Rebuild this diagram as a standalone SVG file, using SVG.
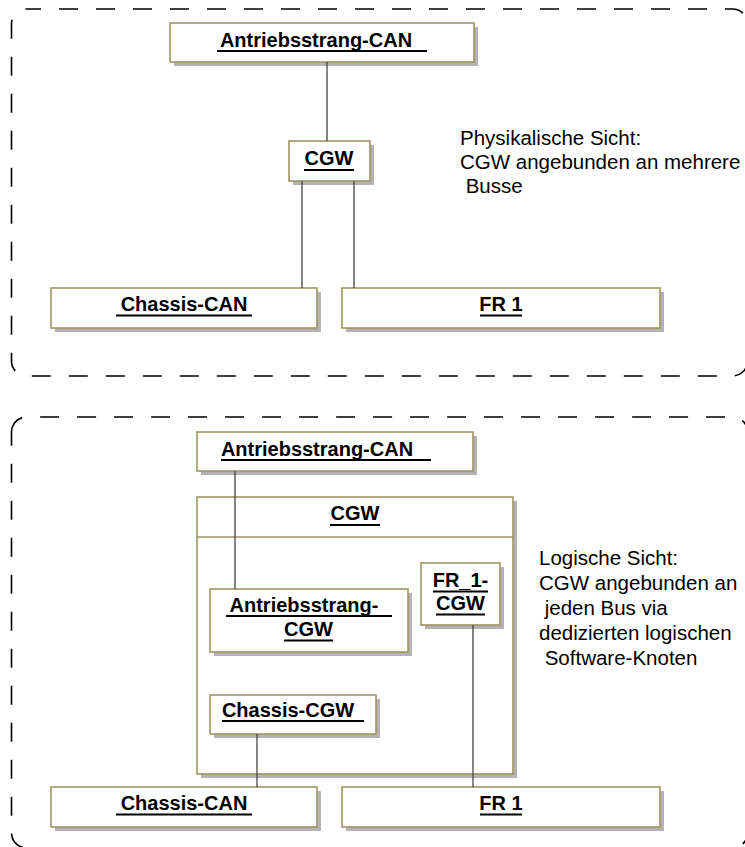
<svg xmlns="http://www.w3.org/2000/svg" width="745" height="847" viewBox="0 0 745 847">
  <style>
    .frame { fill: none; stroke: #000; stroke-width: 1.6; stroke-dasharray: 19 18; }
    .shadow { fill: #b3b3b3; stroke: none; }
    .box { fill: #fff; stroke: #9f9464; stroke-width: 1.6; }
    .sep { stroke: #9f9464; stroke-width: 1.6; }
    .lbl { font-family: "Liberation Sans", Arial, sans-serif; font-size: 20px; font-weight: bold; fill: #000; text-anchor: middle; }
    .ul { stroke: #000; stroke-width: 2; }
    .note { font-family: "Liberation Sans", Arial, sans-serif; font-size: 20.5px; fill: #000; }
    .wire { stroke: #444; stroke-width: 1.3; fill: none; }
  </style>

  <!-- package frames (rounded, dashed) -->
  <path class="frame" style="stroke-dashoffset:4.5"
        d="M26.5 9 H732.5 A15 15 0 0 1 747.5 24 V361 A15 15 0 0 1 732.5 376 H26.5 A15 15 0 0 1 11.5 361 V24 A15 15 0 0 1 26.5 9 Z"/>
  <path class="frame"
        d="M11.5 432 A15 15 0 0 1 26.5 417 H732.5 A15 15 0 0 1 747.5 432 V833 A15 15 0 0 1 732.5 848 H26.5 A15 15 0 0 1 11.5 833 Z"/>

  <!-- physical view -->
  <g id="phys-antriebsstrang-can">
    <rect class="shadow" x="174" y="27" width="304" height="39"/>
    <rect class="box" x="170" y="23" width="304" height="39"/>
    <text class="lbl" x="316" y="47">Antriebsstrang-CAN</text>
    <line class="ul" x1="217" y1="51" x2="427" y2="51"/>
  </g>

  <g id="phys-cgw">
    <rect class="shadow" x="293" y="145" width="81" height="40"/>
    <rect class="box" x="289" y="141" width="81" height="40"/>
    <text class="lbl" x="329" y="165">CGW</text>
    <line class="ul" x1="304" y1="170" x2="354" y2="170"/>
  </g>

  <g id="phys-chassis-can">
    <rect class="shadow" x="55" y="292" width="266" height="40"/>
    <rect class="box" x="51" y="288" width="266" height="40"/>
    <text class="lbl" x="184" y="311">Chassis-CAN</text>
    <line class="ul" x1="116" y1="315.5" x2="252" y2="315.5"/>
  </g>

  <g id="phys-fr1">
    <rect class="shadow" x="346" y="292" width="318" height="40"/>
    <rect class="box" x="342" y="288" width="318" height="40"/>
    <text class="lbl" x="501" y="311">FR 1</text>
    <line class="ul" x1="480" y1="315.5" x2="522" y2="315.5"/>
  </g>

  <g id="phys-note">
    <text class="note" x="460" y="145">Physikalische Sicht:</text>
    <text class="note" x="460" y="169">CGW angebunden an mehrere</text>
    <text class="note" x="460" y="193" xml:space="preserve"> Busse</text>
  </g>

  <!-- logical view -->
  <g id="log-antriebsstrang-can">
    <rect class="shadow" x="201" y="436" width="276" height="39"/>
    <rect class="box" x="197" y="432" width="276" height="39"/>
    <text class="lbl" x="317" y="456">Antriebsstrang-CAN</text>
    <line class="ul" x1="221" y1="460" x2="431" y2="460"/>
  </g>

  <g id="log-cgw">
    <rect class="shadow" x="201" y="501" width="316" height="277"/>
    <rect class="box" x="197" y="497" width="316" height="277"/>
    <line class="sep" x1="197" y1="537" x2="513" y2="537"/>
    <text class="lbl" x="355" y="520">CGW</text>
    <line class="ul" x1="330" y1="525" x2="380" y2="525"/>
  </g>

  <g id="log-antriebsstrang-cgw">
    <rect class="shadow" x="214" y="593" width="198" height="63"/>
    <rect class="box" x="210" y="589" width="198" height="63"/>
    <text class="lbl" x="304" y="612">Antriebsstrang-</text>
    <line class="ul" x1="226" y1="616" x2="392" y2="616"/>
    <text class="lbl" x="308.5" y="636">CGW</text>
    <line class="ul" x1="284" y1="640.5" x2="333" y2="640.5"/>
  </g>

  <g id="log-fr1-cgw">
    <rect class="shadow" x="425" y="567" width="79" height="62"/>
    <rect class="box" x="421" y="563" width="79" height="62"/>
    <text class="lbl" x="460.5" y="587">FR_1-</text>
    <line class="ul" x1="433" y1="591.5" x2="488" y2="591.5"/>
    <text class="lbl" x="460.5" y="610">CGW</text>
    <line class="ul" x1="436" y1="614.5" x2="485" y2="614.5"/>
  </g>

  <g id="log-chassis-cgw">
    <rect class="shadow" x="214" y="699" width="166" height="39"/>
    <rect class="box" x="210" y="695" width="166" height="39"/>
    <text class="lbl" x="288" y="717">Chassis-CGW</text>
    <line class="ul" x1="222" y1="721" x2="364" y2="721"/>
  </g>

  <g id="log-chassis-can">
    <rect class="shadow" x="55" y="791" width="266" height="40"/>
    <rect class="box" x="51" y="787" width="266" height="40"/>
    <text class="lbl" x="184" y="810">Chassis-CAN</text>
    <line class="ul" x1="116" y1="814.5" x2="252" y2="814.5"/>
  </g>

  <g id="log-fr1">
    <rect class="shadow" x="346" y="791" width="318" height="40"/>
    <rect class="box" x="342" y="787" width="318" height="40"/>
    <text class="lbl" x="501" y="810">FR 1</text>
    <line class="ul" x1="480" y1="814.5" x2="522" y2="814.5"/>
  </g>

  <g id="log-note">
    <text class="note" x="539" y="565">Logische Sicht:</text>
    <text class="note" x="539" y="590">CGW angebunden an</text>
    <text class="note" x="539" y="615" xml:space="preserve"> jeden Bus via</text>
    <text class="note" x="539" y="640">dedizierten logischen</text>
    <text class="note" x="539" y="665" xml:space="preserve"> Software-Knoten</text>
  </g>

  <!-- connectors (drawn last so they run across the CGW container) -->
  <g id="connectors">
    <line class="wire" x1="327" y1="62" x2="327" y2="141"/>
    <line class="wire" x1="302" y1="181" x2="302" y2="288"/>
    <line class="wire" x1="354" y1="181" x2="354" y2="288"/>
    <line class="wire" x1="235" y1="471" x2="235" y2="589"/>
    <line class="wire" x1="257" y1="734" x2="257" y2="787"/>
    <line class="wire" x1="473" y1="625" x2="473" y2="787"/>
  </g>
</svg>
